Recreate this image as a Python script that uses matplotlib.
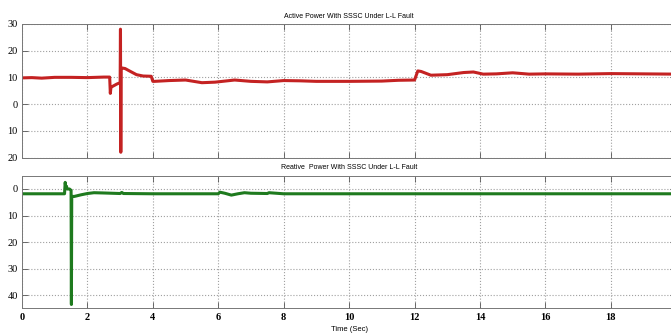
import matplotlib
matplotlib.use("Agg")
import matplotlib.pyplot as plt

# active power
t_p = [0, 0.3, 0.6, 1.0, 1.5, 2.0, 2.5, 2.68, 2.70, 2.72, 2.75, 2.9, 3.0, 3.01, 3.02,
       3.03, 3.05, 3.15, 3.3, 3.5, 3.7, 3.95, 4.0, 4.05, 4.5, 5.0, 5.5, 5.9, 6.5, 7.0,
       7.5, 8.0, 8.5, 9.0, 10.0, 11.0, 11.5, 12.0, 12.1, 12.2, 12.5, 13.0, 13.5, 13.8,
       14.1, 14.5, 15.0, 15.5, 16.0, 17.0, 18.0, 19.0, 20.0]
p_vals = [9.8, 9.9, 9.7, 10.0, 10.0, 9.9, 10.1, 10.1, 4.0, 6.5, 6.5, 7.5, 8.0, 28.0, -18.0,
          13.5, 13.5, 13.3, 12.3, 11.0, 10.5, 10.4, 8.5, 8.5, 8.8, 9.0, 8.0, 8.2, 9.0, 8.5,
          8.3, 8.8, 8.7, 8.5, 8.5, 8.6, 8.9, 9.0, 12.4, 12.2, 10.8, 11.0, 11.8, 12.0,
          11.2, 11.3, 11.7, 11.2, 11.3, 11.2, 11.4, 11.3, 11.2]

# reactive power
t_q = [0, 1.0, 1.3, 1.32, 1.34, 1.36, 1.38, 1.45, 1.50, 1.51, 1.52, 1.53, 1.6, 1.8, 2.0,
       2.2, 2.5, 3.0, 3.05, 3.1, 4, 5, 6.0, 6.05, 6.2, 6.4, 6.6, 6.8, 7.0, 7.5, 7.55, 8,
       10, 20]
q_vals = [-1.8, -1.8, -1.8, 2.5, 0.5, 1.0, 0.0, 0.0, -0.5, -43.5, -3.0, -2.8, -2.8, -2.2,
          -1.7, -1.4, -1.5, -1.7, -1.3, -1.7, -1.8, -1.8, -1.8, -1.2, -1.6, -2.3, -1.8,
          -1.4, -1.6, -1.7, -1.4, -1.8, -1.8, -1.8]

x_ticks = [0, 2, 4, 6, 8, 10, 12, 14, 16, 18]
p_ticks = [30, 20, 10, 0, -10, -20]
p_labels = ['30', '20', '10', '0', '10', '20']
q_ticks = [0, -10, -20, -30, -40]
q_labels = ['0', '10', '20', '30', '40']

fig = plt.figure(figsize=(6.71, 3.36), dpi=100)
ax1 = fig.add_axes([0.0328, 0.531, 0.975, 0.398])
ax2 = fig.add_axes([0.0328, 0.082, 0.975, 0.395])

ax1.plot(t_p, p_vals, color='#c42222', lw=2.2)
ax2.plot(t_q, q_vals, color='#1e7a1e', lw=2.2)

ax1.set_ylim(-20, 30)
ax2.set_ylim(-45, 5)

for ax in (ax1, ax2):
    ax.set_xlim(0, 20)
    ax.set_xticks(x_ticks)
    ax.grid(True, ls=':', color='#a0a0a0', lw=0.8)
    ax.tick_params(direction='in', length=4, width=0.6, top=True, right=True,
                   labelsize=7.5, color='#555555', pad=3)
    for s in ax.spines.values():
        s.set_color('#777777')
        s.set_linewidth(0.7)

ax1.set_yticks(p_ticks)
ax1.set_yticklabels(p_labels, family='Liberation Serif', fontsize=7.5)
ax1.set_xticklabels([])
ax2.set_yticks(q_ticks)
ax2.set_yticklabels(q_labels, family='Liberation Serif', fontsize=7.5)
ax2.set_xticklabels([str(v) for v in x_ticks], family='Liberation Serif',
                    fontsize=7.5, fontweight='bold')

ax1.set_title('Active Power With SSSC Under L-L Fault', fontsize=5,
              family='Liberation Sans', pad=4)
ax2.set_title('Reative  Power With SSSC Under L-L Fault', fontsize=5,
              family='Liberation Sans', pad=5)
ax2.set_xlabel('Time (Sec)', fontsize=5.5, family='Liberation Sans', labelpad=3)

fig.savefig('out.png', dpi=100)
